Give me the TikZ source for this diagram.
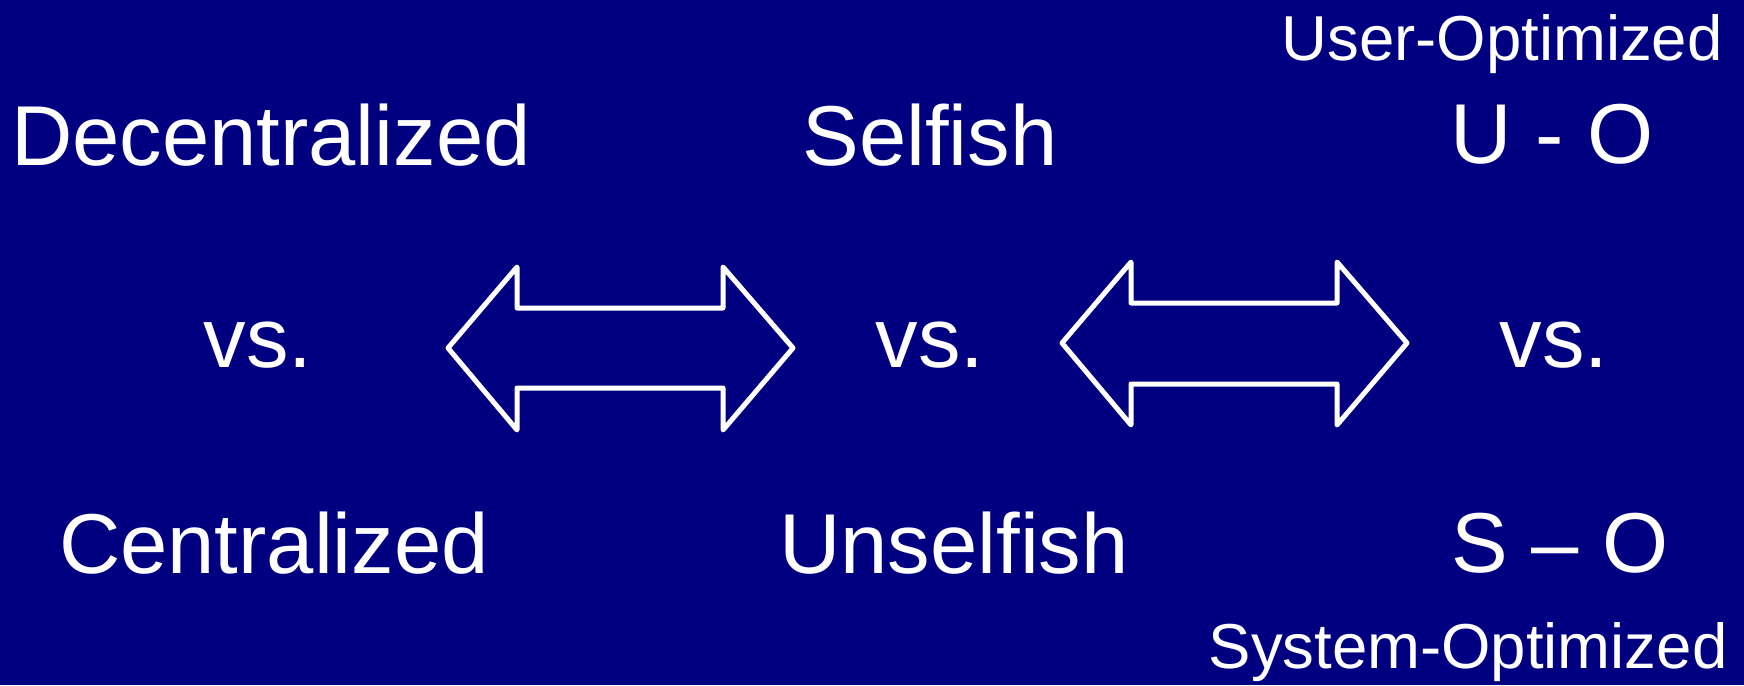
\documentclass[tikz,border=0pt]{standalone}
\usepackage{fontspec}
\setmainfont{Liberation Sans}
\begin{document}
\begin{tikzpicture}[x=1pt,y=-1pt,
  bigtext/.style={text=white,anchor=base,inner sep=0pt,font=\fontsize{85}{90}\selectfont},
  smalltext/.style={text=white,anchor=base,inner sep=0pt,font=\fontsize{63.5}{68}\selectfont},
  dblarrow/.style={draw=white,line width=5pt,line join=round}]
  \definecolor{slidebg}{RGB}{0,0,128}
  \fill[slidebg] (0,0) rectangle (1744,685);
  \useasboundingbox (0,0) rectangle (1744,685);

  % column 1
  \node[bigtext] (dec) at (271,165) {Decentralized};
  \node[bigtext] (vs1) at (258,367) {vs.};
  \node[bigtext] (cen) at (274,573) {Centralized};

  % column 2
  \node[bigtext] (self) at (930,165) {Selfish};
  \node[bigtext] (vs2) at (930,367) {vs.};
  \node[bigtext] (unself) at (954,573) {Unselfish};

  % column 3
  \node[smalltext] (user) at (1502,60) {User-Optimized};
  \node[bigtext] (uo) at (1552,163) {U - O};
  \node[bigtext] (vs3) at (1554,367) {vs.};
  \node[bigtext] (so) at (1560,572) {S -- O};
  \node[smalltext] (sys) at (1468,668) {System-Optimized};

  % double-headed block arrows
  \draw[dblarrow] (448,348) -- (517,267) -- (517,308) -- (723,308) -- (723,267)
    -- (793,348) -- (723,430) -- (723,388) -- (517,388) -- (517,430) -- cycle;
  \draw[dblarrow] (1062,343) -- (1131,262) -- (1131,303) -- (1337,303) -- (1337,262)
    -- (1407,343) -- (1337,425) -- (1337,384) -- (1131,384) -- (1131,425) -- cycle;
\end{tikzpicture}
\end{document}
